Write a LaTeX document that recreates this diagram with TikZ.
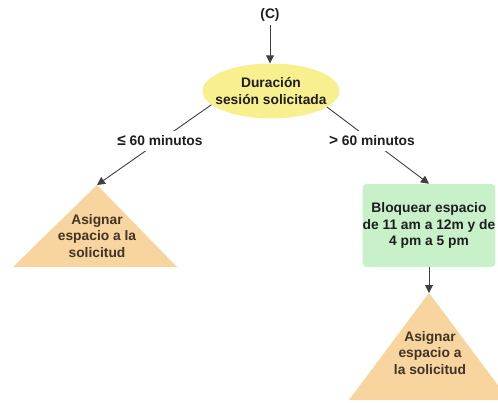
\documentclass[tikz,border=0pt]{standalone}
\usepackage{fontspec}
\setmainfont{Liberation Sans}
\usetikzlibrary{arrows.meta,shapes.geometric}
\definecolor{inkdark}{HTML}{1E1E1E}
\definecolor{inkbrown}{HTML}{3F3426}
\definecolor{linegray}{HTML}{404040}
\definecolor{decfill}{HTML}{F8F08E}
\definecolor{taskfill}{HTML}{C8F1CA}
\definecolor{endfill}{HTML}{F8D49E}
% slightly larger relation symbols in the branch labels
\newcommand\relsym[1]{{\fontsize{15.5}{16}\selectfont #1}}
\tikzset{
  txt/.style={font=\fontsize{13.8}{16.5}\selectfont\bfseries, text=inkdark, align=center},
  decision/.style={ellipse, fill=decfill, minimum width=137pt, minimum height=55pt, inner sep=0pt},
  taskbox/.style={txt, rectangle, rounded corners=4pt, fill=taskfill, minimum width=132pt, minimum height=83pt, inner sep=0pt},
  endtext/.style={txt, text=inkbrown},
  endshape/.style={fill=endfill},
  lbl/.style={txt, fill=white, inner sep=5pt},
  arr/.style={draw=linegray, line width=0.9pt, -{Triangle[width=8pt,length=8pt]}},
}
\begin{document}
\begin{tikzpicture}[x=1pt, y=-1pt]
  \useasboundingbox (0,0) rectangle (498,402);
  \begin{scope}
    \clip (0,0) rectangle (498,402);

    % end shapes (triangles)
    \coordinate (endA) at (97,185);
    \coordinate (endB) at (429,293);
    \fill[endshape] (endA) -- (13,267) -- (177,267) -- cycle;
    \fill[endshape] (endB) -- (349,400) -- (509,400) -- cycle;
    \node[endtext] (endAtext) at (97,236) {Asignar\\espacio a la\\solicitud};
    \node[endtext] (endBtext) at (430,353) {Asignar\\espacio a\\la solicitud};

    % start label and decision
    \node[txt] (start) at (270,15) {(C)};
    \node[decision] (dur) at (271,91) {};
    \node[txt] (durtext) at (dur) {Duración\\sesión solicitada};

    % task box
    \node[taskbox] (block) at (429,225.5) {Bloquear espacio\\de 11 am a 12m y de\\4 pm a 5 pm};

    % connectors
    \draw[arr] (start.south) -- (start.south |- dur.north);
    \draw[arr] (dur.193) -- node[lbl, pos=0.45] {\relsym{≤} 60 minutos} (endA);
    \draw[arr] (dur.344) -- node[lbl, pos=0.44] {\relsym{>} 60 minutos} (block.north);
    \draw[arr] (block.south) -- (endB);
  \end{scope}
\end{tikzpicture}
\end{document}
